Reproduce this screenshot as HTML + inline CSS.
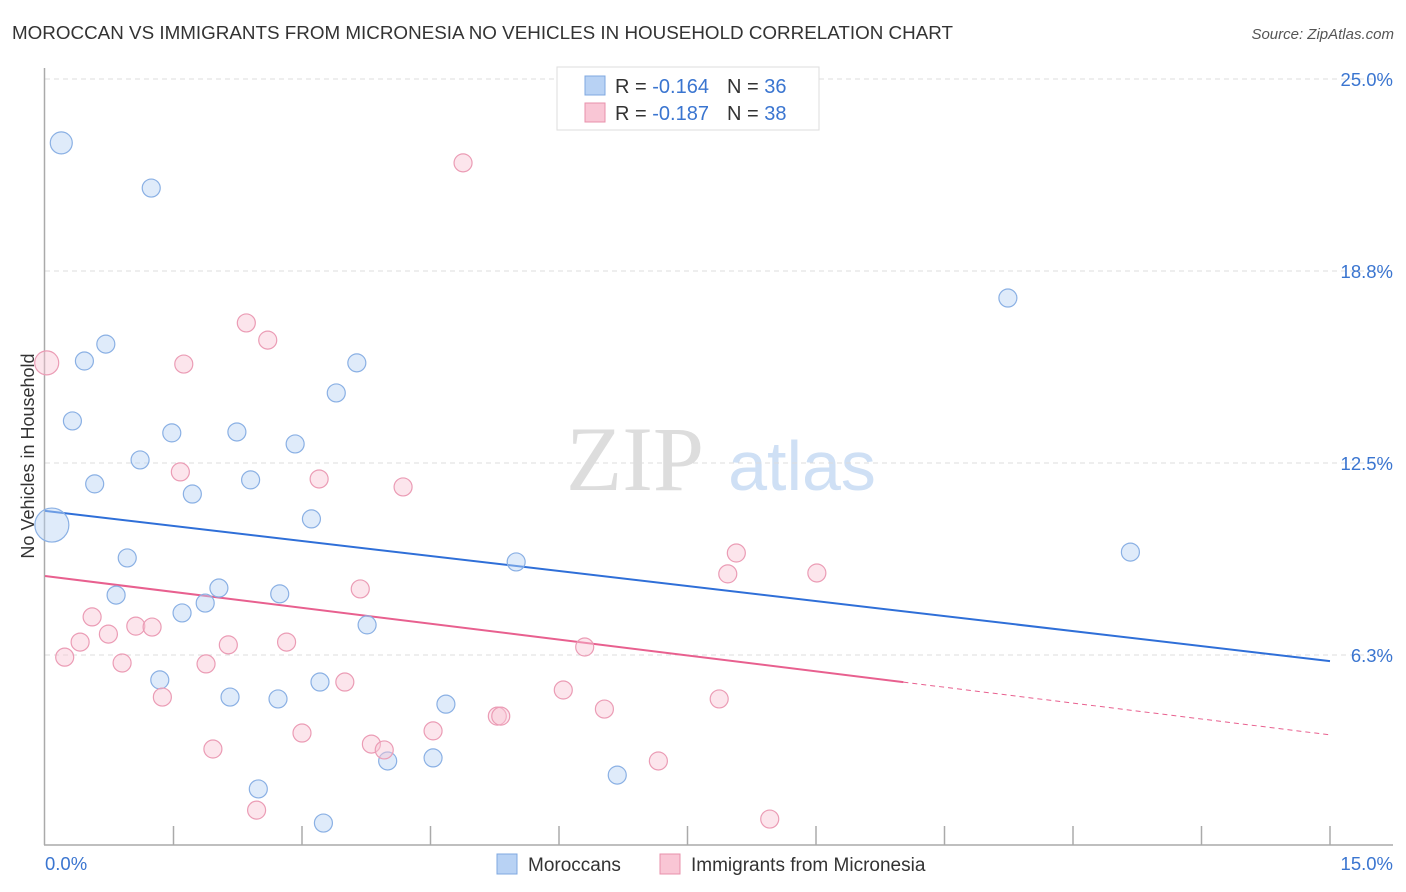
<!DOCTYPE html>
<html><head><meta charset="utf-8"><style>
body{margin:0;background:#fff;font-family:"Liberation Sans",sans-serif;}
</style></head><body>
<svg id="chart" width="1406" height="892" xmlns="http://www.w3.org/2000/svg" style="display:block">
<text x="12" y="39" font-size="18.5" fill="#333" textLength="941" lengthAdjust="spacingAndGlyphs">MOROCCAN VS IMMIGRANTS FROM MICRONESIA NO VEHICLES IN HOUSEHOLD CORRELATION CHART</text>
<text x="1394" y="39" font-size="15" font-style="italic" fill="#555" text-anchor="end">Source: ZipAtlas.com</text>
<text transform="translate(34,456) rotate(-90)" font-size="18" fill="#333" text-anchor="middle">No Vehicles in Household</text>
<g>
<text x="635" y="490" font-size="92" font-family="Liberation Serif,serif" fill="#ddd" text-anchor="middle">ZIP</text>
<text x="802" y="490" font-size="70" fill="#cfe0f5" text-anchor="middle">atlas</text>
</g>
<g id="grid"></g><g id="axes"></g><g id="lines"></g><g id="pts"></g>
<g>
<rect x="557" y="67" width="262" height="63" fill="#fff" stroke="#ddd"/>
<rect x="585" y="76" width="20" height="19" fill="#b8d2f4" stroke="#7fa8e0"/>
<rect x="585" y="103" width="20" height="19" fill="#f9c6d5" stroke="#e890ab"/>
<text x="615" y="93" font-size="20" fill="#333">R = <tspan fill="#3a75d0">-0.164</tspan><tspan dx="18">N = </tspan><tspan fill="#3a75d0">36</tspan></text>
<text x="615" y="120" font-size="20" fill="#333">R = <tspan fill="#3a75d0">-0.187</tspan><tspan dx="18">N = </tspan><tspan fill="#3a75d0">38</tspan></text>
</g>
<g>
<rect x="497" y="854" width="20" height="20" fill="#b8d2f4" stroke="#7fa8e0"/>
<text x="528" y="871" font-size="19" fill="#333">Moroccans</text>
<rect x="660" y="854" width="20" height="20" fill="#f9c6d5" stroke="#e890ab"/>
<text x="691" y="871" font-size="19" fill="#333">Immigrants from Micronesia</text>
</g>
</svg>
<script>
const yTicks=[6.25,12.5,18.75,25];
const yTickLabels=["6.3%","12.5%","18.8%","25.0%"];
const xTickLabels=["0.0%","15.0%"];
const blueX=[0.19,1.24,0.71,0.46,0.32,1.48,2.24,1.11,0.58,1.72,2.40,2.92,3.11,3.40,3.64,0.08,0.96,0.83,2.03,1.87,1.60,2.74,3.76,1.34,2.16,2.72,3.21,4.68,2.49,3.25,4.00,4.53,6.68,5.50,11.24,12.67];
const blueY=[22.92,21.45,16.37,15.82,13.87,13.48,13.51,12.60,11.82,11.49,11.95,13.12,10.68,14.78,15.76,10.48,9.41,8.20,8.43,7.94,7.62,8.24,7.23,5.44,4.88,4.82,5.37,4.65,1.89,0.78,2.80,2.90,2.34,9.28,17.87,9.60];
const blueR=[11,9,9,9,9,9,9,9,9,9,9,9,9,9,9,17,9,9,9,9,9,9,9,9,9,9,9,9,9,9,9,9,9,9,9,9];
const pinkX=[0.02,4.88,2.35,2.60,1.62,1.58,3.20,4.18,3.68,0.55,0.41,0.74,0.23,1.06,1.25,0.90,1.37,1.88,2.14,2.82,3.50,1.96,3.00,2.47,3.81,3.96,4.53,5.28,5.32,6.05,6.53,6.30,7.16,7.87,8.07,7.97,9.01,8.46];
const pinkY=[15.76,22.27,17.06,16.50,15.72,12.21,11.98,11.72,8.40,7.49,6.67,6.93,6.18,7.19,7.16,5.99,4.88,5.96,6.58,6.67,5.37,3.19,3.71,1.20,3.35,3.16,3.78,4.26,4.26,5.11,4.49,6.51,2.80,4.82,9.57,8.89,8.92,0.91];
const pinkR=[12,9,9,9,9,9,9,9,9,9,9,9,9,9,9,9,9,9,9,9,9,9,9,9,9,9,9,9,9,9,9,9,9,9,9,9,9,9];
const blueTrend=[10.94,6.05];
const pinkTrend=[8.82,3.65];
const pinkSolidEnd=10.02;
const NS="http://www.w3.org/2000/svg";
const X=v=>45+v/15*1285, Y=v=>847-v/6.25*192;
function mk(p,t,a){const e=document.createElementNS(NS,t);for(const k in a)e.setAttribute(k,a[k]);document.getElementById(p).appendChild(e);return e;}
yTicks.forEach((t,i)=>{
 const g=mk('grid','line',{x1:45,x2:1393,y1:Y(t),y2:Y(t),stroke:'#ddd','stroke-dasharray':'5,4'});
 
 
 const l=mk('axes','text',{x:1393,y:Y(t)+7,'font-size':18.5,fill:'#3a75d0','text-anchor':'end'});
 
 
 l.textContent=yTickLabels[i];
});
let a=mk('axes','line',{x1:44.5,x2:44.5,y1:68,y2:845,stroke:'#aaa','stroke-width':1.5});


a=mk('axes','line',{x1:44,x2:1393,y1:845,y2:845,stroke:'#aaa','stroke-width':1.5});


for(let i=1;i<=10;i++){const t=mk('axes','line',{x1:X(i*1.5),x2:X(i*1.5),y1:826,y2:845,stroke:'#aaa','stroke-width':1.5});
 
 }
[[0,'start',45],[15,'end',1393]].forEach((d,i)=>{const t=mk('axes','text',{x:d[2],y:870,'font-size':18.5,fill:'#3a75d0','text-anchor':d[1]});
 
 
 t.textContent=xTickLabels[i];});
function pts(xs,ys,rs,fill,st,name){xs.forEach((x,i)=>{const c=mk('pts','circle',{cx:X(x),cy:Y(ys[i]),r:rs[i],fill:fill,stroke:st,'stroke-width':1.2});
 
 });}
pts(blueX,blueY,blueR,'rgba(184,210,244,0.45)','#8ab0e4','moroccan-point');
pts(pinkX,pinkY,pinkR,'rgba(249,198,213,0.45)','#eb9cb5','micronesia-point');
let ln=mk('lines','line',{x1:X(0),y1:Y(blueTrend[0]),x2:X(15),y2:Y(blueTrend[1]),stroke:'#2f6fd8','stroke-width':2});


const py=x=>pinkTrend[0]+(pinkTrend[1]-pinkTrend[0])*x/15;
ln=mk('lines','line',{x1:X(0),y1:Y(py(0)),x2:X(pinkSolidEnd),y2:Y(py(pinkSolidEnd)),stroke:'#e8608f','stroke-width':2});


ln=mk('lines','line',{x1:X(pinkSolidEnd),y1:Y(py(pinkSolidEnd)),x2:X(15),y2:Y(py(15)),stroke:'#e8608f','stroke-width':1,'stroke-dasharray':'5,4'});


</script>
</body></html>
